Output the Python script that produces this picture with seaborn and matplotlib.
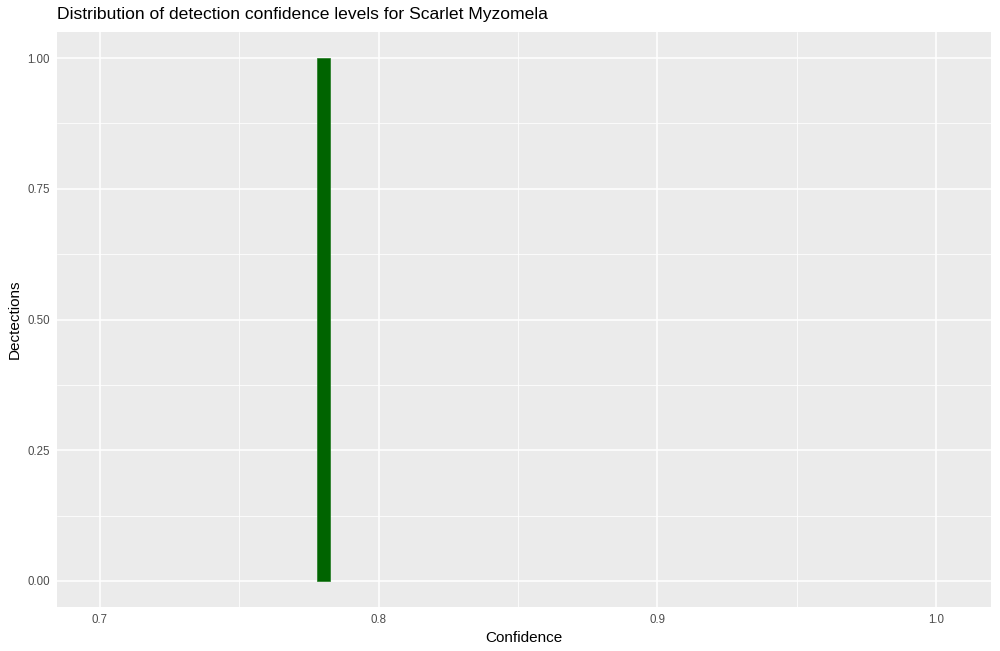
import numpy as np
import pandas as pd
import matplotlib
matplotlib.use('Agg')
import matplotlib.pyplot as plt
import seaborn as sns
from matplotlib.ticker import MultipleLocator

# detections of Scarlet Myzomela (one detection)
confidence = [0.7803]
bin_edges = [0.7780, 0.7826]

df = pd.DataFrame({'Confidence': confidence})

sns.set_style('darkgrid', {'axes.facecolor': '#EBEBEB', 'grid.color': 'white'})
plt.rcParams['font.family'] = ['Liberation Sans', 'DejaVu Sans']

fig = plt.figure(figsize=(10, 6.51), dpi=100)
ax = fig.add_axes([57 / 1000, 1 - 607 / 651, (991 - 57) / 1000, (607 - 32) / 651])

sns.histplot(data=df, x='Confidence', bins=bin_edges, color='#006400',
             edgecolor='#1E7A1E', alpha=1, linewidth=0.5, ax=ax)

ax.set_xlim(0.6846, 1.0197)
ax.set_ylim(-0.05, 1.05)
ax.set_xticks([0.7, 0.8, 0.9, 1.0])
ax.set_xticklabels(['0.7', '0.8', '0.9', '1.0'])
ax.set_yticks([0, 0.25, 0.5, 0.75, 1.0])
ax.set_yticklabels(['0.00', '0.25', '0.50', '0.75', '1.00'])
ax.xaxis.set_minor_locator(MultipleLocator(0.05))
ax.yaxis.set_minor_locator(MultipleLocator(0.125))
ax.grid(which='major', color='white', linewidth=1.1)
ax.grid(which='minor', color='white', linewidth=0.55)
ax.set_axisbelow(True)
for s in ax.spines.values():
    s.set_visible(False)
ax.tick_params(which='major', length=3, width=0.8, color='#333333',
               labelsize=8.3, labelcolor='#4D4D4D', pad=2)
ax.tick_params(which='minor', length=0)

ax.set_xlabel('Confidence', fontsize=11, color='black', labelpad=4)
ax.set_ylabel('Dectections', fontsize=11, color='black', labelpad=4)
fig.text(57 / 1000, 1 - 14 / 651, 'Distribution of detection confidence levels for Scarlet Myzomela',
         fontsize=12.6, color='black', va='center', ha='left')

fig.savefig('out.png', dpi=100)
